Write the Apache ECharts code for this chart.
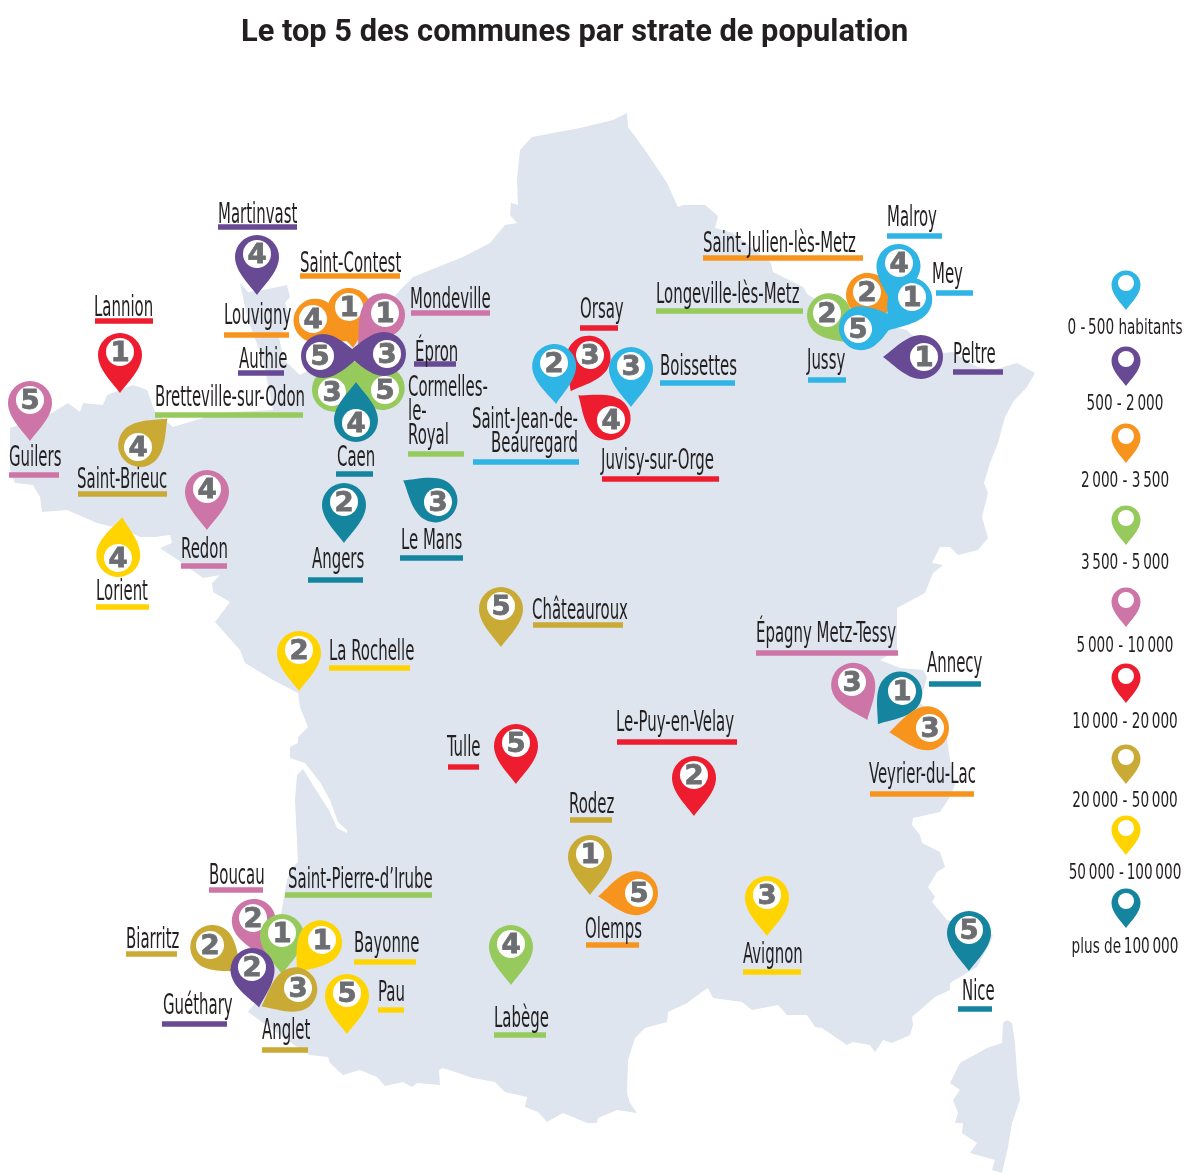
<!DOCTYPE html>
<html lang="fr">
<head>
<meta charset="utf-8">
<title>Le top 5 des communes par strate de population</title>
<script src="https://cdn.jsdelivr.net/npm/echarts@6/dist/echarts.min.js"></script>
<style>
  html, body { margin: 0; background: #fff; }
  #chart { width: 1200px; height: 1175px; }
</style>
</head>
<body>
<div id="chart"></div>
<script>
const titleText = 'Le top 5 des communes par strate de population';

// population strata, in legend order
const tierLabels = ['0 - 500 habitants', '500 - 2 000', '2 000 - 3 500', '3 500 - 5 000', '5 000 - 10 000',
  '10 000 - 20 000', '20 000 - 50 000', '50 000 - 100 000', 'plus de 100 000'];
const tierColors = ['#2fb4e6', '#674a93', '#f7941e', '#96ca5c', '#cd75a6', '#ed1c2e', '#c9aa35', '#ffd400', '#15849f'];
const legendPinY = [283, 359, 436, 518, 600, 676, 757, 828, 901];
const legendTextY = [334, 410, 487, 569, 652, 728, 807, 879, 953];

// communes, in drawing order (later ones overlap earlier ones)
const communes = ['Martinvast', 'Lannion', 'Guilers', 'Saint-Brieuc', 'Redon', 'Lorient', 'Angers', 'Le Mans',
  'Louvigny', 'Saint-Contest', 'Mondeville', 'Bretteville-sur-Odon', 'Cormelles-\nle-\nRoyal', 'Authie', 'Épron', 'Caen',
  'Orsay', 'Saint-Jean-de-\nBeauregard', 'Boissettes', 'Juvisy-sur-Orge',
  'Longeville-lès-Metz', 'Saint-Julien-lès-Metz', 'Malroy', 'Mey', 'Jussy', 'Peltre',
  'Châteauroux', 'La Rochelle', 'Tulle', 'Le-Puy-en-Velay', 'Épagny Metz-Tessy', 'Annecy', 'Veyrier-du-Lac',
  'Rodez', 'Olemps', 'Avignon', 'Nice', 'Labège',
  'Boucau', 'Biarritz', 'Saint-Pierre-d’Irube', 'Bayonne', 'Anglet', 'Guéthary', 'Pau'];
const ranks = [4, 1, 5, 4, 4, 4, 2, 3,
  4, 1, 1, 3, 5, 5, 3, 4,
  3, 2, 3, 4,
  2, 2, 4, 1, 5, 1,
  5, 2, 5, 2, 3, 1, 3,
  1, 5, 3, 5, 4,
  2, 2, 1, 1, 3, 2, 5];
const tiers = [1, 5, 4, 6, 4, 7, 8, 8,
  2, 2, 4, 3, 3, 1, 1, 8,
  5, 0, 0, 5,
  3, 2, 0, 0, 0, 1,
  6, 7, 5, 5, 4, 8, 2,
  6, 2, 7, 8, 3,
  4, 6, 3, 7, 6, 1, 7];
const pinX = [257, 120, 30, 138, 207, 118, 344, 438,
  313, 349, 385, 332, 385, 320, 387, 356,
  590, 554, 631, 611,
  827, 867, 899, 912, 858, 924,
  501, 299, 516, 694, 852, 902, 930,
  590, 639, 767, 969, 511,
  253, 210, 282, 322, 298, 252, 347];
const pinY = [254, 352, 400, 447, 489, 558, 502, 502,
  319, 307, 313, 392, 390, 356, 354, 423,
  355, 363, 366, 420,
  313, 292, 263, 297, 329, 357,
  606, 650, 743, 775, 682, 691, 728,
  854, 893, 895, 930, 944,
  918, 945, 933, 940, 988, 967, 993];
// clockwise turn of the pin, 0 = tip pointing down
const pinAngle = [0, 0, 0, 226, 0, 186, 0, 122,
  -57, -6, 41, 221, 130, -90, 90, 180,
  28, -3, 0, 127,
  -42, -19, 10, 35, 254, 90,
  0, 0, 0, 0, -22, 36, 84,
  0, 85, 0, 0, 0,
  -15, -49, 0, 38, 63, -10, 0];

const labelX = [218, 94, 9, 77, 181, 96, 312, 401,
  224, 300, 410, 155, 408, 239, 415, 337,
  580, 578, 660, 601,
  656, 703, 887, 932, 807, 953,
  532, 329, 447, 616, 756, 927, 869,
  569, 585, 743, 962, 494,
  209, 126, 288, 354, 262, 163, 378];
const labelBase = [222, 315, 465, 487, 557, 599, 567, 548,
  323, 271, 307, 405, 395, 367, 360, 465,
  317, 427, 374, 468,
  302, 251, 225, 282, 368, 362,
  618, 659, 755, 730, 641, 671, 782,
  812, 937, 962, 999, 1026,
  883, 947, 887, 951, 1038, 1013, 1000];
const rightAligned = ['Saint-Jean-de-\nBeauregard'];
const lineX0 = [218, 95, 9, 78, 181, 96, 308, 400,
  224, 300, 411, 155, 408, 238, 414, 336,
  580, 473, 660, 602,
  656, 703, 887, 936, 808, 953,
  533, 329, 448, 617, 756, 929, 870,
  570, 586, 743, 958, 494,
  209, 126, 285, 354, 262, 162, 378];
const lineX1 = [297, 153, 59, 167, 227, 149, 363, 463,
  289, 400, 490, 303, 464, 284, 456, 373,
  618, 579, 735, 719,
  803, 863, 942, 973, 846, 1003,
  623, 410, 479, 737, 898, 981, 974,
  612, 639, 801, 992, 546,
  263, 177, 432, 416, 308, 227, 404];
const lineY = [227, 321, 475, 494, 566, 607, 580, 558,
  335, 276, 313, 415, 454, 373, 364, 474,
  328, 462, 383, 479,
  311, 258, 236, 293, 380, 372,
  625, 668, 767, 742, 653, 684, 794,
  820, 945, 972, 1009, 1035,
  890, 954, 895, 962, 1050, 1024, 1010];

const mainlandOutline = [[627, 113], [628, 127], [647, 153], [667, 183], [678, 207], [683, 205], [705, 205], [717, 215],
  [718, 217], [715, 228], [733, 233], [771, 263], [773, 272], [803, 287], [808, 295], [860, 320], [907, 330], [912, 335],
  [943, 353], [953, 352], [977, 367], [993, 370], [1017, 363], [1035, 373], [1027, 387], [1013, 402], [1005, 417],
  [998, 443], [990, 463], [984, 483], [988, 493], [982, 517], [988, 538], [978, 550], [958, 555], [950, 547], [940, 547],
  [932, 563], [943, 565], [933, 573], [925, 593], [897, 608], [897, 650], [880, 660], [900, 668], [923, 670], [927, 677],
  [920, 703], [945, 725], [950, 760], [955, 785], [950, 797], [940, 812], [913, 818], [912, 825], [920, 835], [922, 843],
  [940, 852], [945, 867], [937, 872], [928, 887], [935, 897], [932, 902], [947, 920], [993, 935], [990, 943], [977, 967],
  [950, 983], [950, 990], [935, 997], [912, 1017], [913, 1025], [910, 1035], [892, 1043], [883, 1040], [875, 1052],
  [870, 1045], [853, 1042], [847, 1045], [822, 1028], [815, 1027], [807, 1015], [787, 1015], [778, 1005], [752, 1010],
  [742, 1002], [713, 998], [708, 988], [702, 992], [687, 1003], [668, 1012], [667, 1022], [645, 1028], [635, 1038],
  [628, 1060], [627, 1093], [630, 1103], [637, 1113], [617, 1110], [598, 1118], [597, 1123], [587, 1123], [563, 1113],
  [547, 1122], [538, 1112], [525, 1107], [527, 1097], [505, 1092], [495, 1082], [473, 1078], [443, 1068], [439, 1070],
  [440, 1085], [417, 1083], [412, 1087], [403, 1082], [385, 1086], [377, 1077], [360, 1070], [343, 1075], [330, 1063],
  [328, 1057], [310, 1055], [297, 1047], [248, 1012], [265, 990], [280, 920], [287, 880], [293, 867], [298, 862],
  [295, 800], [297, 775], [303, 769], [316, 790], [330, 812], [337, 828], [347, 833], [347, 830], [338, 822], [330, 800],
  [320, 782], [305, 763], [290, 758], [290, 747],
  [298, 743], [298, 737], [308, 727], [300, 707], [298, 693], [273, 680], [245, 663], [240, 650], [215, 622], [230, 602],
  [213, 592], [212, 583], [222, 573], [233, 573], [203, 578], [192, 570], [178, 560], [160, 548], [172, 543], [170, 535],
  [155, 537], [140, 537], [125, 530], [97, 523], [67, 510], [42, 512], [40, 497], [33, 485], [15, 483], [10, 470],
  [10, 428], [52, 413], [68, 403], [80, 412], [83, 403], [103, 405], [107, 395], [133, 385], [147, 390], [155, 412],
  [173, 427], [213, 415], [233, 412], [273, 410], [263, 360], [253, 333], [247, 317], [243, 297], [240, 283], [248, 292],
  [263, 290], [287, 285], [290, 297], [285, 303], [290, 317], [279, 338], [284, 360], [300, 375], [345, 350], [375, 320],
  [400, 290], [413, 277], [463, 257], [490, 243], [505, 225], [517, 223], [510, 215], [511, 203], [518, 205], [517, 180],
  [520, 150], [532, 137], [580, 128], [613, 120]];
const corsicaOutline = [[1007, 1020], [1012, 1023], [1015, 1043], [1017, 1073], [1020, 1100], [1012, 1123], [1008, 1147],
  [1002, 1173], [992, 1170], [995, 1160], [970, 1153], [977, 1143], [962, 1133], [963, 1123], [955, 1123], [958, 1113],
  [953, 1100], [960, 1090], [950, 1083], [960, 1063], [987, 1048], [1002, 1043], [1003, 1023]];

const LEGEND_X = 1126;
const LABEL_FONT = '"Liberation Sans Narrow", "DejaVu Sans Condensed", sans-serif';
const LABEL_SIZE = 28;
const LABEL_SQUEEZE = 0.593;
const LEGEND_SIZE = 21;
const INK = '#231f20';

// teardrop around the white disc: disc centre is the origin, tip 41 below
const PIN_PATH = 'M0 41 C-6 32 -22 18 -22 3 A22 22 0 1 1 22 3 C22 18 6 32 0 41 Z';

const drawPin = (point, angle, tier, rank, size, discRadius) => {
  const children = [
    {
      type: 'path',
      shape: { pathData: PIN_PATH, layout: 'cover', x: -22 * size, y: -19 * size, width: 44 * size, height: 60 * size },
      style: { fill: tierColors[tier] }
    },
    { type: 'circle', shape: { cx: 0, cy: 0, r: discRadius }, style: { fill: '#fff' } }
  ];
  if (rank) {
    children.push({
      type: 'text',
      rotation: (angle * Math.PI) / 180,
      scaleX: 1.06,
      style: {
        text: String(rank), x: 0, y: 2, fill: '#6d6e71', stroke: '#6d6e71', lineWidth: 0.8,
        align: 'center', verticalAlign: 'middle', font: 'bold 26px "DejaVu Sans", sans-serif'
      }
    });
  }
  return { type: 'group', x: point[0], y: point[1], rotation: (-angle * Math.PI) / 180, children };
};

const polygonSeries = (outline) => ({
  type: 'custom',
  silent: true,
  clip: false,
  data: [[0, 0]],
  renderItem: (params, api) => ({
    type: 'polygon',
    shape: { points: outline.map((p) => api.coord(p)) },
    style: { fill: '#dee5ee' }
  })
});

const chart = echarts.init(document.getElementById('chart'));
chart.setOption({
  animation: false,
  backgroundColor: '#fff',
  title: {
    text: titleText,
    left: 236,
    top: 13,
    textStyle: { fontFamily: 'Roboto', fontWeight: 'bold', fontSize: 30.8, color: INK }
  },
  grid: { left: 0, right: 0, top: 0, bottom: 0 },
  xAxis: { type: 'value', min: 0, max: 1200, show: false },
  yAxis: { type: 'value', min: 0, max: 1175, inverse: true, show: false },
  series: [
    polygonSeries(mainlandOutline),
    polygonSeries(corsicaOutline),
    {
      // underlines
      type: 'custom',
      silent: true,
      clip: false,
      data: communes.map((c, i) => [lineX0[i], lineY[i], lineX1[i], tiers[i]]),
      renderItem: (params, api) => {
        const start = api.coord([api.value(0), api.value(1)]);
        const end = api.coord([api.value(2), api.value(1)]);
        return {
          type: 'rect',
          shape: { x: start[0], y: start[1] - 2.7, width: end[0] - start[0], height: 5.4 },
          style: { fill: tierColors[api.value(3)] }
        };
      }
    },
    {
      // commune names
      type: 'custom',
      silent: true,
      clip: false,
      data: communes.map((c, i) => [labelX[i], labelBase[i], i]),
      renderItem: (params, api) => {
        const name = communes[api.value(2)];
        const point = api.coord([api.value(0), api.value(1)]);
        const align = rightAligned.includes(name) ? 'right' : 'left';
        return {
          type: 'group',
          children: name.split('\n').map((line, n) => ({
            type: 'text',
            x: point[0],
            y: point[1] + n * 24,
            scaleX: LABEL_SQUEEZE,
            style: { text: line, x: 0, y: -0.73 * LABEL_SIZE, fill: INK, align, font: LABEL_SIZE + 'px ' + LABEL_FONT }
          }))
        };
      }
    },
    {
      // pins
      type: 'custom',
      silent: true,
      clip: false,
      data: communes.map((c, i) => [pinX[i], pinY[i], pinAngle[i], tiers[i], ranks[i]]),
      renderItem: (params, api) => drawPin(api.coord([api.value(0), api.value(1)]), api.value(2), api.value(3), api.value(4), 1, 14)
    },
    {
      // legend pins
      type: 'custom',
      silent: true,
      clip: false,
      data: tierLabels.map((t, i) => [LEGEND_X, legendPinY[i], i]),
      renderItem: (params, api) => drawPin(api.coord([api.value(0), api.value(1)]), 0, api.value(2), 0, 0.66, 8)
    },
    {
      // legend labels
      type: 'custom',
      silent: true,
      clip: false,
      data: tierLabels.map((t, i) => [LEGEND_X - 1, legendTextY[i], i]),
      renderItem: (params, api) => {
        const point = api.coord([api.value(0), api.value(1)]);
        return {
          type: 'text',
          x: point[0],
          y: point[1],
          scaleX: 0.72,
          style: {
            text: tierLabels[api.value(2)].replace(/ (?=\d{3})/g, '\u2009'),
            x: 0, y: -0.78 * LEGEND_SIZE, fill: INK, align: 'center', font: LEGEND_SIZE + 'px ' + LABEL_FONT
          }
        };
      }
    }
  ]
});
</script>
</body>
</html>
